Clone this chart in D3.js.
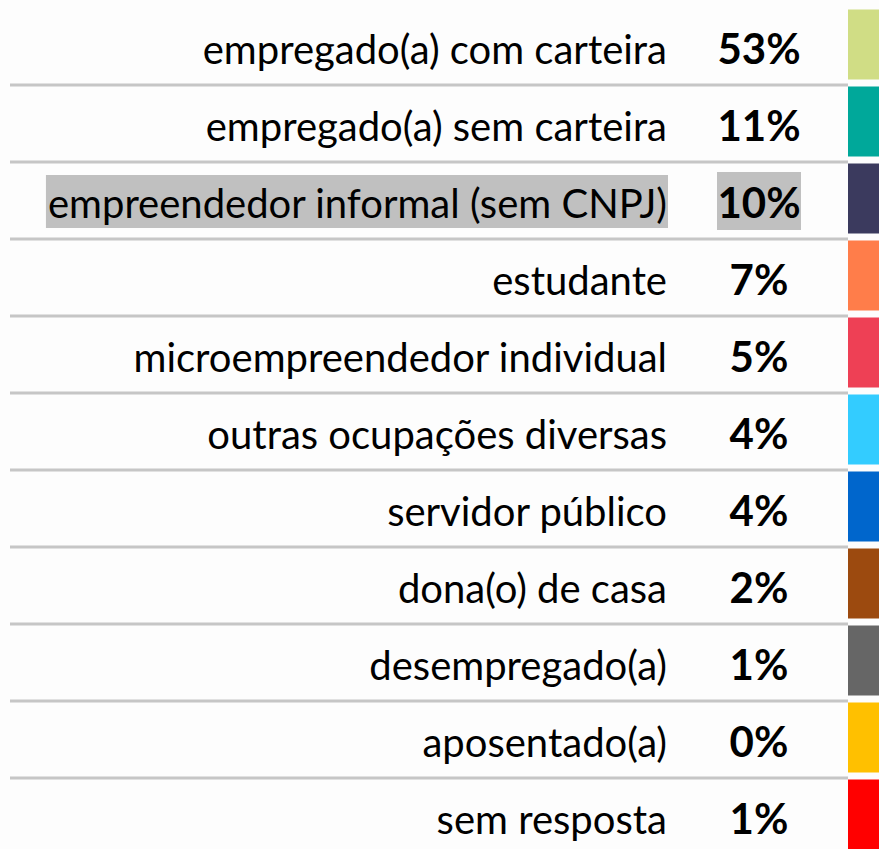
<!DOCTYPE html>
<meta charset="utf-8">
<script src="https://d3js.org/d3.v7.min.js"></script>
<style>
  body { margin: 0; background: #fdfdfd; }
  text { font-family: Lato, "Noto Sans", sans-serif; fill: #000; }
</style>
<div id="chart"></div>
<script>

// categories, values and swatch colours
var categories = ["empregado(a) com carteira", "empregado(a) sem carteira", "empreendedor informal (sem CNPJ)",
  "estudante", "microempreendedor individual", "outras ocupações diversas", "servidor público",
  "dona(o) de casa", "desempregado(a)", "aposentado(a)", "sem resposta"];
var values = [53, 11, 10, 7, 5, 4, 4, 2, 1, 0, 1];
var colors = ["#d0dd85", "#00a89a", "#3b3a5e", "#ff7d4a", "#ee4055", "#33ccff", "#0066cc",
  "#9c4a0f", "#666666", "#ffc000", "#ff0000"];
var highlighted = ["empreendedor informal (sem CNPJ)"];

var width = 879, height = 849;

var svg = d3.select("#chart")
  .append("svg")
    .attr("width", width)
    .attr("height", height);

var data = categories.map(function(c, i) { return {cat: c, value: values[i], color: colors[i]}; });

// one band per row
var y = d3.scaleBand()
  .domain(categories)
  .range([8, 855]);

var labelRight = 667, pctCenter = 759, swatchX = 848;

var rows = svg.selectAll(".row")
  .data(data)
  .enter().append("g")
    .attr("class", "row")
    .attr("transform", function(d) { return "translate(0," + y(d.cat) + ")"; });

// separator lines under each row except the last
rows.filter(function(d, i) { return i < data.length - 1; })
  .append("line")
    .attr("x1", 10)
    .attr("x2", swatchX)
    .attr("y1", y.bandwidth())
    .attr("y2", y.bandwidth())
    .attr("stroke", "#c6c6c6")
    .attr("stroke-width", 3);

// colour swatches
rows.append("rect")
  .attr("x", swatchX)
  .attr("y", 1.5)
  .attr("width", width - swatchX)
  .attr("height", 70)
  .attr("fill", function(d) { return d.color; });

var labels = rows.append("text")
  .attr("x", labelRight)
  .attr("y", 55.5)
  .attr("text-anchor", "end")
  .style("font-size", "40px")
  .text(function(d) { return d.cat; });

var pcts = rows.append("text")
  .attr("x", pctCenter)
  .attr("y", 55.5)
  .attr("text-anchor", "middle")
  .style("font-size", "42px")
  .style("font-weight", "bold")
  .text(function(d) { return d3.format("d")(d.value) + "%"; });

// grey highlight behind the selected row
rows.filter(function(d) { return highlighted.indexOf(d.cat) >= 0; })
  .each(function(d) {
    var g = d3.select(this);
    var lb = g.select("text").node().getBBox();
    g.insert("rect", "text")
      .attr("x", lb.x - 2)
      .attr("y", 13)
      .attr("width", lb.width + 3)
      .attr("height", 53)
      .attr("fill", "#c0c0c0");
    g.insert("rect", "text")
      .attr("x", 717)
      .attr("y", 10)
      .attr("width", 84)
      .attr("height", 58)
      .attr("fill", "#c0c0c0");
  });

</script>
